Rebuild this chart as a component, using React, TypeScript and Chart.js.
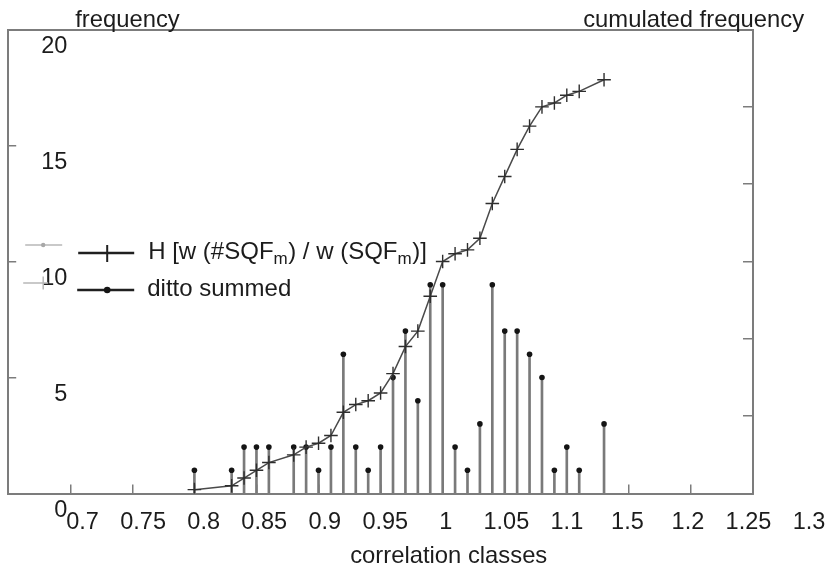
import React, { useEffect, useRef } from "react";
import { Chart, registerables } from "chart.js";

Chart.register(...registerables);

// ---------------- data ----------------
const CLASSES = [
  0.8, 0.83, 0.84, 0.85, 0.86, 0.88, 0.89, 0.9, 0.91, 0.92, 0.93, 0.94, 0.95, 0.96, 0.97,
  0.98, 0.99, 1.0, 1.01, 1.02, 1.03, 1.04, 1.05, 1.06, 1.07, 1.08, 1.09, 1.1, 1.11, 1.13,
];
const FREQUENCY = [
  1, 1, 2, 2, 2, 2, 2, 1, 2, 6, 2, 1, 2, 5, 7, 4, 9, 9, 2, 1, 3, 9, 7, 7, 6, 5, 1, 2, 1, 3,
];
const CUMULATED = [
  1, 2, 4, 6, 8, 10, 12, 13, 15, 21, 23, 24, 26, 31, 38, 42, 51, 60, 62, 63, 66, 75, 82, 89,
  95, 100, 101, 103, 104, 107,
];
const X_TICK_LABELS = ["0.7", "0.75", "0.8", "0.85", "0.9", "0.95", "1", "1.05", "1.1", "1.5", "1.2", "1.25", "1.3"];
const X_RANGE = [0.65, 1.25];
const X_STEP = 0.05;
const FREQ_RANGE = [0, 20];
const FREQ_STEP = 5;
const CUM_RANGE = [0, 120];
const CUM_STEP = 20;

const X_TITLE = "correlation classes";
const Y_TITLE = "frequency";
const Y2_TITLE = "cumulated frequency";
const LEGEND_MAIN = ["H [w (#SQF", "m", ") / w (SQF", "m", ")]"];
const LEGEND_SUMMED = "ditto summed";

// ---------------- styles ----------------
const FAMILY = "'Liberation Sans', Arial, Helvetica, sans-serif";
const TEXT = "#1c1c1c";
const FRAME = "#7c7c7c";
const BOTTOM_SPACE = 74.5;

const clearPad = (s: any) => {
  s.paddingLeft = 0;
  s.paddingRight = 0;
  s.paddingTop = 0;
  s.paddingBottom = 0;
};
const zeroH = (s: any) => {
  s.height = 0;
  clearPad(s);
};
const zeroW = (s: any) => {
  s.width = 0;
  clearPad(s);
};
const labelH = (s: any) => {
  s.height = BOTTOM_SPACE;
  clearPad(s);
};

const overlayText = {
  id: "overlayText",
  afterDraw(chart: any) {
    const ctx = chart.ctx as CanvasRenderingContext2D;
    const a = chart.chartArea;
    ctx.save();
    ctx.fillStyle = TEXT;
    ctx.textAlign = "left";
    ctx.textBaseline = "alphabetic";
    ctx.font = `23.8px ${FAMILY}`;
    // axis titles
    ctx.fillText(Y_TITLE, a.left + 67, a.top - 2.5);
    ctx.fillText(Y2_TITLE, a.left + 575, a.top - 2.5);
    ctx.fillText(X_TITLE, a.left + 342, a.bottom + 69.5);

    // faint leftover legend symbols of the scan
    ctx.strokeStyle = "#b8b8b8";
    ctx.fillStyle = "#a8a8a8";
    ctx.lineWidth = 1.5;
    ctx.beginPath();
    ctx.moveTo(a.left + 17, a.top + 215.5);
    ctx.lineTo(a.left + 54, a.top + 215.5);
    ctx.moveTo(a.left + 15, a.top + 253.5);
    ctx.lineTo(a.left + 40, a.top + 253.5);
    ctx.moveTo(a.left + 35, a.top + 247);
    ctx.lineTo(a.left + 35, a.top + 260);
    ctx.stroke();
    ctx.beginPath();
    ctx.arc(a.left + 35, a.top + 215.5, 2.2, 0, Math.PI * 2);
    ctx.fill();

    // legend entry 1 (line with cross)
    const lx0 = a.left + 70;
    const lx1 = a.left + 126;
    const lxm = a.left + 99;
    const ly1 = a.top + 223.5;
    const ly2 = a.top + 260.5;
    ctx.strokeStyle = "#202020";
    ctx.lineWidth = 2.6;
    ctx.beginPath();
    ctx.moveTo(lx0, ly1);
    ctx.lineTo(lx1, ly1);
    ctx.stroke();
    ctx.lineWidth = 2;
    ctx.beginPath();
    ctx.moveTo(lxm, ly1 - 8);
    ctx.lineTo(lxm, ly1 + 9);
    ctx.stroke();
    // legend entry 2 (line with dot)
    ctx.lineWidth = 2.6;
    ctx.beginPath();
    ctx.moveTo(lx0 - 1, ly2);
    ctx.lineTo(lx1, ly2);
    ctx.stroke();
    ctx.fillStyle = "#151515";
    ctx.beginPath();
    ctx.arc(lxm, ly2, 3.3, 0, Math.PI * 2);
    ctx.fill();

    // legend texts
    ctx.fillStyle = TEXT;
    let tx = a.left + 140;
    const base1 = ly1 + 6;
    LEGEND_MAIN.forEach((part, i) => {
      const sub = i % 2 === 1;
      ctx.font = sub ? `17px ${FAMILY}` : `24px ${FAMILY}`;
      ctx.fillText(part, tx, sub ? base1 + 4.5 : base1);
      tx += ctx.measureText(part).width + (sub ? 0.5 : 0);
    });
    ctx.font = `24px ${FAMILY}`;
    ctx.fillText(LEGEND_SUMMED, a.left + 139, ly2 + 5.5);
    ctx.restore();
  },
};

export default function App() {
  const ref = useRef<HTMLCanvasElement | null>(null);

  useEffect(() => {
    const canvas = ref.current;
    if (!canvas) return;
    const freqPoints = CLASSES.map((x, i) => ({ x, y: FREQUENCY[i] }));
    const cumPoints = CLASSES.map((x, i) => ({ x, y: CUMULATED[i] }));
    const tickFont = { family: FAMILY, size: 23.5 };

    const chart = new Chart(canvas, {
      type: "bar",
      data: {
        datasets: [
          {
            type: "line",
            label: "cumulated",
            data: cumPoints,
            xAxisID: "x",
            yAxisID: "y2",
            borderColor: "#4a4a4a",
            borderWidth: 1.5,
            pointStyle: "cross",
            pointRadius: 6.8,
            pointBorderColor: "#2e2e2e",
            pointBorderWidth: 1.4,
            pointBackgroundColor: "#2e2e2e",
            fill: false,
            tension: 0,
            order: 0,
          } as any,
          {
            type: "scatter",
            label: "frequency dots",
            data: freqPoints,
            xAxisID: "x",
            yAxisID: "y",
            pointRadius: 2.8,
            pointBackgroundColor: "#151515",
            pointBorderColor: "#151515",
            pointBorderWidth: 0,
            showLine: false,
            order: 1,
          } as any,
          {
            type: "bar",
            label: "frequency",
            data: freqPoints,
            xAxisID: "x",
            yAxisID: "y",
            backgroundColor: "#7a7a7a",
            barThickness: 2,
            grouped: false,
            order: 2,
          } as any,
        ],
      },
      options: {
        responsive: false,
        animation: false,
        devicePixelRatio: 1,
        layout: { padding: { left: 8, right: 83, top: 29.5, bottom: 0 } },
        plugins: {
          legend: { display: false },
          tooltip: { enabled: false },
        },
        scales: {
          x: {
            type: "linear",
            position: "bottom",
            offset: false,
            min: X_RANGE[0],
            max: X_RANGE[1],
            ticks: { stepSize: X_STEP, display: false },
            grid: { offset: false, drawOnChartArea: false, tickLength: -9, color: FRAME, lineWidth: 1.5 },
            border: { color: FRAME, width: 2 },
            afterFit: zeroH,
          },
          xLabels: {
            type: "linear",
            position: "bottom",
            weight: 1,
            offset: false,
            min: -0.2378,
            max: 12.066,
            afterBuildTicks: (s: any) => {
              s.ticks = X_TICK_LABELS.map((_, i) => ({ value: i }));
            },
            ticks: {
              callback: (_v: any, i: number) => X_TICK_LABELS[i],
              autoSkip: false,
              maxRotation: 0,
              minRotation: 0,
              labelOffset: 60,
              padding: 15,
              font: tickFont,
              color: TEXT,
            },
            grid: { offset: false, display: false, drawTicks: false },
            border: { display: false },
            afterFit: labelH,
          },
          xTop: {
            type: "linear",
            position: "top",
            offset: false,
            ticks: { display: false },
            grid: { offset: false, display: false, drawTicks: false },
            border: { color: FRAME, width: 2 },
            afterFit: zeroH,
          },
          y: {
            type: "linear",
            position: "left",
            min: FREQ_RANGE[0],
            max: FREQ_RANGE[1],
            ticks: {
              stepSize: FREQ_STEP,
              mirror: true,
              crossAlign: "far",
              padding: 33,
              labelOffset: 17.5,
              font: tickFont,
              color: TEXT,
            },
            grid: { drawOnChartArea: false, tickLength: -8, color: FRAME, lineWidth: 1.5 },
            border: { color: FRAME, width: 2 },
            afterFit: zeroW,
          },
          y2: {
            type: "linear",
            position: "right",
            min: CUM_RANGE[0],
            max: CUM_RANGE[1],
            ticks: { stepSize: CUM_STEP, display: false },
            grid: { drawOnChartArea: false, tickLength: -10, color: FRAME, lineWidth: 1.5 },
            border: { color: FRAME, width: 2 },
            afterFit: zeroW,
          },
        },
      } as any,
      plugins: [overlayText],
    });
    return () => chart.destroy();
  }, []);

  return (
    <div style={{ position: "absolute", left: 0, top: 0, width: 836, height: 568, background: "#ffffff" }}>
      <canvas ref={ref} width={836} height={568} style={{ display: "block", width: 836, height: 568 }} />
    </div>
  );
}
